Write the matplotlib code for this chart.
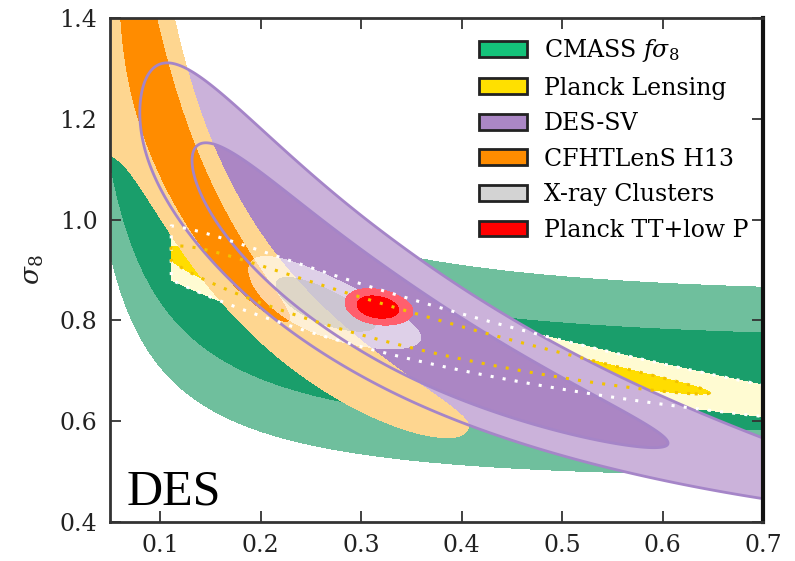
import numpy as np
import matplotlib
matplotlib.use("Agg")
import matplotlib.pyplot as plt
from matplotlib.patches import Patch

plt.rcParams['font.family'] = ['DejaVu Serif']
plt.rcParams['mathtext.fontset'] = 'dejavuserif'

# ---------------- data: 2D likelihood models in (ln Om, ln s8) ----------------
# chi2 = ((v - vmid(x)) / w(x))^2 + (x / sa)^2 , x = ln(Om) - u0
# vmid = v0 - alpha*x - beta*x^2
# width above ridge: w0*exp(-gamma*x + delta*x^2)
# width below ridge: w0_lo*exp(-gamma_lo*x + delta_lo*x^2)  (defaults to the above)
CMASS = dict(u0=-1.20, v0=-0.34, alpha=0.165, beta=-0.075, w0=0.115,
             gamma=0.0, delta=0.0, sa_lo=2.0, sa_hi=2.0, L1=2.3, L2=6.18,
             dv1=0.0285, k1=0.851)
LENSING = dict(u0=-1.204, v0=-0.2135, alpha=0.215, beta=0.071, w0=0.031,
               gamma=0.0, delta=0.0, sa_lo=0.60, sa_hi=0.44, L1=3.05, L2=6.18,
               dv1=0.0, k1=0.85, om_min=0.11)
DESSV = dict(u0=-1.15, v0=-0.2075, alpha=0.49, beta=0.145, w0=0.0764,
             gamma=0.0, delta=0.0, sa_lo=0.555, sa_hi=0.41, L1=2.5, L2=6.18)
CFHT = dict(u0=-2.15, v0=0.108, alpha=0.4485, beta=0.0462,
            w0=0.0857, gamma=1.3045, delta=0.80,
            w0_lo=0.0628, gamma_lo=0.5776, delta_lo=0.805,
            sa_lo=0.503, sa_hi=0.503, L1=1.8, L2=6.18)
XRAY = dict(u0=-1.347, v0=-0.186, alpha=0.25, beta=0.0, w0=0.030,
            gamma=0.0, delta=0.0, sa_lo=0.13, sa_hi=0.13, L1=2.1, L2=6.18)
PLANCK = dict(u0=-1.152, v0=-0.191, alpha=0.10, beta=0.0, w0=0.0171,
              gamma=0.0, delta=0.0, sa_lo=0.0429, sa_hi=0.0429, L1=2.3, L2=6.18)

legend_labels = [r'CMASS $f\sigma_8$', 'Planck Lensing', 'DES-SV',
                 'CFHTLenS H13', 'X-ray Clusters', 'Planck TT+low P']
legend_colors = ['#14c37a', '#ffe000', '#ab87c5', '#ff8c00', '#d3d3d3', '#ff0000']

x_ticks = [0.1, 0.2, 0.3, 0.4, 0.5, 0.6, 0.7]
y_ticks = [0.4, 0.6, 0.8, 1.0, 1.2, 1.4]

# ---------------- grid ----------------
om = np.linspace(0.03, 0.80, 800)
s8 = np.linspace(0.30, 1.60, 800)
OM, S8 = np.meshgrid(om, s8)


def chi2_map(p, inner=False):
    u = np.log(OM)
    v = np.log(S8)
    x = u - p['u0']
    sa = np.where(x < 0, p['sa_lo'], p['sa_hi'])
    vmid = p['v0'] - p['alpha'] * x - p['beta'] * x ** 2
    w_up = p['w0'] * np.exp(-p['gamma'] * x + p['delta'] * x ** 2)
    w_lo = p.get('w0_lo', p['w0']) * np.exp(-p.get('gamma_lo', p['gamma']) * x
                                            + p.get('delta_lo', p['delta']) * x ** 2)
    if inner:
        vmid = vmid + p.get('dv1', 0.0)
        w_up = w_up * p.get('k1', 1.0)
        w_lo = w_lo * p.get('k1', 1.0)
    w = np.where(v < vmid, w_lo, w_up)
    c = ((v - vmid) / w) ** 2 + (x / sa) ** 2
    if 'om_min' in p:
        c = np.where(OM < p['om_min'], 1e6, c)
    return c


def fill(ax, p, c_out, c_in, z):
    ax.contourf(OM, S8, chi2_map(p), levels=[-1, p['L2']], colors=[c_out], zorder=z)
    ax.contourf(OM, S8, chi2_map(p, inner=True), levels=[-1, p['L1']], colors=[c_in], zorder=z + 0.1)


fig = plt.figure(figsize=(7.95, 5.61), dpi=100)
ax = fig.add_axes([110 / 795, 39 / 561, 653 / 795, 504 / 561])

fill(ax, CMASS, '#6fbf9d', '#1a9e6b', 1)
fill(ax, LENSING, '#fffbd2', '#ffdd00', 2)
fill(ax, DESSV, '#cbb2da', '#ab86c4', 3)
fill(ax, CFHT, '#fed690', '#ff8c00', 4)

# X-ray clusters: translucent
ax.contourf(OM, S8, chi2_map(XRAY), levels=[-1, XRAY['L2']], colors=[(1, 1, 1, 0.62)], zorder=5)
ax.contourf(OM, S8, chi2_map(XRAY, True), levels=[-1, XRAY['L1']], colors=[(0.72, 0.72, 0.72, 0.45)], zorder=5.1)

fill(ax, PLANCK, '#ff5f6d', '#ff0000', 6)

# DES-SV outlines on top
ax.contour(OM, S8, chi2_map(DESSV), levels=[DESSV['L2']], colors=['#a585c8'], linewidths=2, zorder=7)
ax.contour(OM, S8, chi2_map(DESSV, True), levels=[DESSV['L1']], colors=['#a585c8'], linewidths=2, zorder=7)

# Planck lensing dotted outlines
ax.contour(OM, S8, chi2_map(LENSING), levels=[LENSING['L2']], colors=['white'],
           linewidths=2.2, linestyles=[(0, (1, 3))], zorder=8)
ax.contour(OM, S8, chi2_map(LENSING, True), levels=[LENSING['L1']], colors=['#f2c200'],
           linewidths=2.2, linestyles=[(0, (1, 3))], zorder=8)

ax.set_xlim(0.05, 0.7)
ax.set_ylim(0.4, 1.4)
ax.set_xticks(x_ticks)
ax.set_yticks(y_ticks)
ax.set_xticklabels(['%.1f' % t for t in x_ticks])
ax.set_yticklabels(['%.1f' % t for t in y_ticks])
ax.tick_params(direction='in', length=8, width=1.3, colors='#333', labelcolor='#222',
               labelsize=17, top=True, right=True, pad=9)
for side in ['left', 'bottom', 'top']:
    ax.spines[side].set_color('#333')
    ax.spines[side].set_linewidth(2)
ax.spines['right'].set_color('#111')
ax.spines['right'].set_linewidth(3)
for s in ax.spines.values():
    s.set_zorder(20)

ax.set_ylabel(r'$\sigma_8$', fontsize=19, color='#222')
ax.yaxis.set_label_coords(-0.098, 0.5)

ax.text(0.026, 0.034, 'DES', transform=ax.transAxes, fontsize=36,
        family='Liberation Serif', ha='left', va='baseline', zorder=15)

handles = [Patch(facecolor=c, edgecolor='#222', linewidth=2) for c in legend_colors]
leg = ax.legend(handles, legend_labels, loc='upper left', bbox_to_anchor=(0.540, 0.995),
                frameon=False, fontsize=17, handlelength=2.03, handleheight=0.64,
                labelspacing=0.53, handletextpad=0.72, borderpad=0.2)
leg.set_zorder(30)

fig.savefig('out.png', dpi=100)
